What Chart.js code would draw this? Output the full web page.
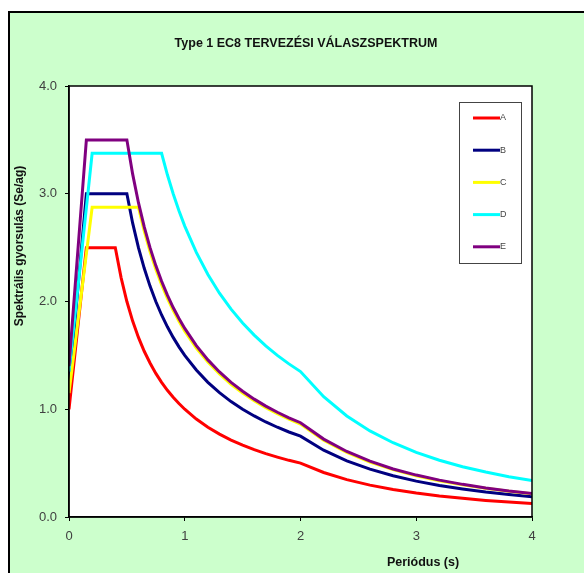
<!DOCTYPE html>
<html>
<head>
<meta charset="utf-8">
<script src="https://cdn.jsdelivr.net/npm/chart.js@4"></script>
<style>
  html, body { margin: 0; padding: 0; background: #fff; }
  #wrap { width: 584px; height: 573px; position: relative; }
</style>
</head>
<body>
<div id="wrap"><canvas id="spectrum" width="584" height="573"></canvas></div>
<script>
// soil classes (EC8 type 1), periods in s, Se/ag
const soilClasses = ['A', 'B', 'C', 'D', 'E'];
const lineColors = ['#FF0000', '#000080', '#FFFF00', '#00FFFF', '#800080'];

const periodA = [0, 0.15, 0.4, 0.45, 0.5, 0.55, 0.6, 0.65, 0.7, 0.75, 0.8, 0.85, 0.9, 0.95, 1.0, 1.1, 1.2, 1.3, 1.4, 1.5, 1.6, 1.7, 1.8, 1.9, 2.0, 2.2, 2.4, 2.6, 2.8, 3.0, 3.2, 3.4, 3.6, 3.8, 4.0];
const valuesA = [1.0, 2.5, 2.5, 2.222, 2.0, 1.818, 1.667, 1.538, 1.429, 1.333, 1.25, 1.176, 1.111, 1.053, 1.0, 0.909, 0.833, 0.769, 0.714, 0.667, 0.625, 0.588, 0.556, 0.526, 0.5, 0.413, 0.347, 0.296, 0.255, 0.222, 0.195, 0.173, 0.154, 0.139, 0.125];

const periodB = [0, 0.15, 0.5, 0.55, 0.6, 0.65, 0.7, 0.75, 0.8, 0.85, 0.9, 0.95, 1.0, 1.1, 1.2, 1.3, 1.4, 1.5, 1.6, 1.7, 1.8, 1.9, 2.0, 2.2, 2.4, 2.6, 2.8, 3.0, 3.2, 3.4, 3.6, 3.8, 4.0];
const valuesB = [1.2, 3.0, 3.0, 2.727, 2.5, 2.308, 2.143, 2.0, 1.875, 1.765, 1.667, 1.579, 1.5, 1.364, 1.25, 1.154, 1.071, 1.0, 0.938, 0.882, 0.833, 0.789, 0.75, 0.62, 0.521, 0.444, 0.383, 0.333, 0.293, 0.26, 0.231, 0.208, 0.188];

const periodC = [0, 0.2, 0.6, 0.65, 0.7, 0.75, 0.8, 0.85, 0.9, 0.95, 1.0, 1.1, 1.2, 1.3, 1.4, 1.5, 1.6, 1.7, 1.8, 1.9, 2.0, 2.2, 2.4, 2.6, 2.8, 3.0, 3.2, 3.4, 3.6, 3.8, 4.0];
const valuesC = [1.15, 2.875, 2.875, 2.654, 2.464, 2.3, 2.156, 2.029, 1.917, 1.816, 1.725, 1.568, 1.438, 1.327, 1.232, 1.15, 1.078, 1.015, 0.958, 0.908, 0.863, 0.713, 0.599, 0.51, 0.44, 0.383, 0.337, 0.298, 0.266, 0.239, 0.216];

const periodD = [0, 0.2, 0.8, 0.85, 0.9, 0.95, 1.0, 1.1, 1.2, 1.3, 1.4, 1.5, 1.6, 1.7, 1.8, 1.9, 2.0, 2.2, 2.4, 2.6, 2.8, 3.0, 3.2, 3.4, 3.6, 3.8, 4.0];
const valuesD = [1.35, 3.375, 3.375, 3.176, 3.0, 2.842, 2.7, 2.455, 2.25, 2.077, 1.929, 1.8, 1.688, 1.588, 1.5, 1.421, 1.35, 1.116, 0.938, 0.799, 0.689, 0.6, 0.527, 0.467, 0.417, 0.374, 0.338];

const periodE = [0, 0.15, 0.5, 0.55, 0.6, 0.65, 0.7, 0.75, 0.8, 0.85, 0.9, 0.95, 1.0, 1.1, 1.2, 1.3, 1.4, 1.5, 1.6, 1.7, 1.8, 1.9, 2.0, 2.2, 2.4, 2.6, 2.8, 3.0, 3.2, 3.4, 3.6, 3.8, 4.0];
const valuesE = [1.4, 3.5, 3.5, 3.182, 2.917, 2.692, 2.5, 2.333, 2.188, 2.059, 1.944, 1.842, 1.75, 1.591, 1.458, 1.346, 1.25, 1.167, 1.094, 1.029, 0.972, 0.921, 0.875, 0.723, 0.608, 0.518, 0.446, 0.389, 0.342, 0.303, 0.27, 0.242, 0.219];

const xTicks = [0, 1, 2, 3, 4];
const yTicks = [0.0, 1.0, 2.0, 3.0, 4.0];

const periods = [periodA, periodB, periodC, periodD, periodE];
const values = [valuesA, valuesB, valuesC, valuesD, valuesE];

function toPoints(xs, ys) {
    return xs.map(function (x, i) { return { x: x, y: ys[i] }; });
}

const datasets = soilClasses.map(function (name, i) {
    return {
        label: name,
        data: toPoints(periods[i], values[i]),
        borderColor: lineColors[i],
        backgroundColor: lineColors[i],
        borderWidth: 3,
        pointRadius: 0,
        tension: 0,
        fill: false,
        order: soilClasses.length - i   // E drawn on top, like the original
    };
});

const FONT = "'Liberation Sans', Arial, sans-serif";

// green frame, plot border, titles and the boxed legend
const decor = {
    id: 'decor',
    beforeDraw(chart) {
        const c = chart.ctx;
        const a = chart.chartArea;
        c.save();
        c.fillStyle = '#CCFFCC';
        c.fillRect(9, 12, 600, 600);
        c.strokeStyle = '#000';
        c.lineWidth = 2;
        c.strokeRect(9, 12, 600, 600);
        c.fillStyle = '#FFFFFF';
        c.fillRect(a.left, a.top, a.right - a.left, a.bottom - a.top);
        c.restore();
    },
    afterDraw(chart) {
        const c = chart.ctx;
        const a = chart.chartArea;
        c.save();
        c.strokeStyle = '#000';
        c.lineWidth = 1.5;
        c.strokeRect(a.left, a.top, a.right - a.left, a.bottom - a.top);

        c.fillStyle = '#111';
        c.textBaseline = 'middle';
        c.textAlign = 'center';
        c.font = 'bold 12.5px ' + FONT;
        c.fillText('Type 1 EC8 TERVEZÉSI VÁLASZSPEKTRUM', 306, 44);

        c.font = 'bold 12.5px ' + FONT;
        c.fillText('Periódus (s)', 423, 563);

        c.save();
        c.translate(20, 246);
        c.rotate(-Math.PI / 2);
        c.font = 'bold 12px ' + FONT;
        c.fillText('Spektrális gyorsulás (Se/ag)', 0, 0);
        c.restore();

        // legend box
        const bx = 459, by = 102, bw = 62, bh = 161;
        c.fillStyle = '#fff';
        c.fillRect(bx, by, bw, bh);
        c.strokeStyle = '#444';
        c.lineWidth = 1;
        c.strokeRect(bx + 0.5, by + 0.5, bw, bh);
        c.font = '9px ' + FONT;
        c.textAlign = 'left';
        chart.data.datasets.forEach(function (ds, i) {
            const yy = 118 + i * 32.2;
            c.strokeStyle = ds.borderColor;
            c.lineWidth = 3;
            c.beginPath();
            c.moveTo(473, yy);
            c.lineTo(500, yy);
            c.stroke();
            c.fillStyle = '#444';
            c.fillText(ds.label, 500, yy);
        });
        c.restore();
    }
};

new Chart(document.getElementById('spectrum'), {
    type: 'line',
    data: { datasets: datasets },
    options: {
        responsive: false,
        animation: false,
        layout: { padding: { top: 86, right: 52, bottom: 0, left: 0 } },
        plugins: {
            legend: { display: false },
            title: { display: false },
            tooltip: { enabled: false }
        },
        scales: {
            x: {
                type: 'linear',
                min: 0,
                max: 4,
                afterFit: function (s) { s.height = 56; },
                afterBuildTicks: function (s) { s.ticks = xTicks.map(function (v) { return { value: v }; }); },
                grid: { drawOnChartArea: false, drawTicks: true, tickLength: 4, color: '#000' },
                border: { color: '#000', width: 1.5 },
                ticks: {
                    padding: 8,
                    color: '#404040',
                    font: { family: FONT, size: 13 },
                    callback: function (v) { return String(v); }
                }
            },
            y: {
                type: 'linear',
                min: 0,
                max: 4,
                afterFit: function (s) { s.width = 69; },
                afterBuildTicks: function (s) { s.ticks = yTicks.map(function (v) { return { value: v }; }); },
                grid: { drawOnChartArea: false, drawTicks: true, tickLength: 4, color: '#000' },
                border: { color: '#000', width: 1.5 },
                ticks: {
                    padding: 8,
                    color: '#404040',
                    font: { family: FONT, size: 13 },
                    callback: function (v) { return Number(v).toFixed(1); }
                }
            }
        }
    },
    plugins: [decor]
});
</script>
</body>
</html>
